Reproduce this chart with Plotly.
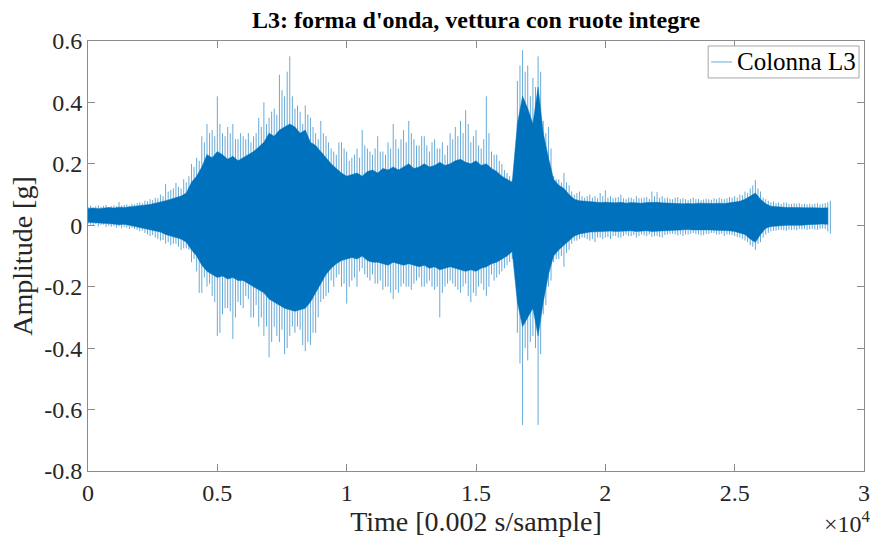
import plotly.graph_objects as go

# ---- data (sample index, amplitude in g) ----
# outer spikes of the waveform, one every 100 samples (max / min seen there)
spike_pos = list(range(0, 28701, 100))
spike_hi = [
    .060, .064, .058, .062, .065, .060, .063, .066, .059, .062,
    .065, .062, .076, .064, .066, .068, .064, .070, .068, .072,
    .075, .072, .080, .078, .085, .082, .090, .088, .100, .095,
    .135, .110, .115, .120, .138, .125, .120, .150, .140, .160,
    .200, .190, .220, .210, .290, .270, .330, .300, .310, .290,
    .420, .330, .300, .290, .320, .300, .330, .280, .280, .300,
    .290, .280, .300, .270, .290, .300, .350, .320, .400, .330,
    .350, .370, .380, .360, .490, .440, .420, .500, .550, .420,
    .380, .390, .370, .330, .390, .360, .350, .320, .300, .280,
    .340, .300, .290, .270, .250, .240, .230, .270, .270, .250,
    .240, .210, .220, .230, .250, .220, .310, .260, .250, .240,
    .230, .250, .290, .240, .240, .230, .270, .250, .330, .280,
    .250, .280, .310, .270, .340, .300, .280, .260, .260, .290,
    .290, .260, .240, .270, .280, .250, .250, .270, .230, .260,
    .300, .280, .320, .290, .340, .300, .375, .330, .270, .290,
    .310, .260, .250, .280, .420, .300, .240, .230, .230, .210,
    .200, .180, .170, .160, .150, .180, .470, .520, .570, .500,
    .520, .420, .480, .450, .550, .500, .340, .300, .320, .250,
    .160, .150, .150, .140, .170, .140, .130, .110, .100, .105,
    .110, .095, .090, .095, .100, .090, .095, .088, .105, .095,
    .114, .090, .095, .088, .090, .092, .100, .088, .085, .090,
    .090, .085, .095, .088, .088, .090, .092, .086, .110, .095,
    .108, .090, .095, .088, .090, .086, .085, .090, .092, .085,
    .088, .085, .082, .086, .090, .085, .086, .082, .084, .086,
    .085, .083, .088, .085, .090, .086, .085, .088, .092, .090,
    .095, .090, .100, .098, .110, .105, .120, .130, .147, .120,
    .110, .090, .085, .080, .075, .078, .072, .075, .070, .074,
    .074, .070, .070, .072, .070, .072, .068, .070, .068, .070,
    .068, .070, .072, .068, .070, .072, .075, .080,
]
spike_lo = [
    .004, .002, .000, .003, -.004, .001, .002, -.006, -.002, -.005,
    -.003, -.008, -.004, -.010, -.006, -.008, -.012, -.009, -.012, -.015,
    -.020, -.018, -.025, -.030, -.035, -.032, -.040, -.045, -.050, -.048,
    -.060, -.055, -.065, -.060, -.060, -.070, -.080, -.075, -.075, -.080,
    -.120, -.110, -.150, -.220, -.220, -.170, -.200, -.190, -.230, -.250,
    -.360, -.350, -.290, -.270, -.270, -.280, -.370, -.300, -.250, -.260,
    -.270, -.230, -.240, -.300, -.300, -.260, -.330, -.300, -.360, -.330,
    -.430, -.380, -.330, -.360, -.380, -.340, -.420, -.400, -.360, -.330,
    -.350, -.330, -.340, -.390, -.410, -.380, -.390, -.350, -.350, -.300,
    -.250, -.240, -.230, -.220, -.180, -.200, -.170, -.160, -.200, -.190,
    -.255, -.200, -.180, -.170, -.200, -.150, -.140, -.160, -.170, -.180,
    -.160, -.190, -.190, -.180, -.210, -.200, -.200, -.220, -.240, -.210,
    -.220, -.200, -.190, -.200, -.200, -.210, -.190, -.180, -.170, -.200,
    -.200, -.190, -.180, -.200, -.210, -.200, -.300, -.220, -.200, -.190,
    -.180, -.190, -.200, -.210, -.220, -.200, -.190, -.230, -.250, -.220,
    -.230, -.200, -.190, -.210, -.230, -.200, -.160, -.180, -.170, -.160,
    -.150, -.140, -.130, -.120, -.110, -.130, -.350, -.450, -.650, -.400,
    -.440, -.380, -.360, -.400, -.650, -.420, -.290, -.260, -.200, -.180,
    -.120, -.110, -.110, -.100, -.135, -.090, -.080, -.060, -.050, -.050,
    -.045, -.040, -.040, -.045, -.050, -.045, -.055, -.040, -.040, -.045,
    -.040, -.038, -.045, -.035, -.035, -.040, -.040, -.035, -.030, -.035,
    -.035, -.032, -.040, -.035, -.030, -.033, -.035, -.030, -.038, -.035,
    -.035, -.038, -.040, -.032, -.030, -.028, -.028, -.030, -.033, -.030,
    -.035, -.030, -.030, -.028, -.025, -.028, -.030, -.033, -.032, -.028,
    -.028, -.025, -.025, -.030, -.030, -.028, -.035, -.030, -.030, -.032,
    -.035, -.038, -.040, -.045, -.050, -.055, -.065, -.070, -.080, -.060,
    -.055, -.040, -.030, -.025, -.020, -.018, -.018, -.015, -.015, -.016,
    -.018, -.014, -.015, -.014, -.016, -.012, -.014, -.012, -.015, -.013,
    -.012, -.014, -.015, -.012, -.010, -.012, -.020, -.027,
]

# dense (solid) core of the waveform, one value every 200 samples
core_pos = list(range(0, 28601, 200))
core_hi = [
    .055, .056, .054, .057, .058, .056, .059, .058, .060, .061,
    .064, .066, .068, .072, .075, .080, .085, .090, .095, .105,
    .140, .160, .190, .230, .220, .240, .230, .215, .225, .210,
    .220, .230, .240, .255, .270, .300, .290, .310, .320, .330,
    .320, .300, .310, .270, .260, .240, .220, .200, .185, .170,
    .160, .165, .170, .160, .175, .180, .170, .185, .180, .190,
    .180, .190, .200, .185, .190, .200, .190, .195, .205, .195,
    .200, .210, .215, .205, .200, .210, .195, .200, .185, .175,
    .160, .150, .140, .330, .420, .380, .330, .450, .300, .220,
    .150, .130, .120, .100, .085, .080, .078, .076, .075, .074,
    .075, .074, .073, .075, .072, .074, .073, .072, .074, .075,
    .075, .073, .072, .071, .072, .070, .071, .070, .072, .071,
    .070, .071, .072, .071, .073, .075, .078, .085, .095, .105,
    .085, .070, .062, .060, .059, .058, .058, .057, .058, .057,
    .057, .056, .056, .057,
]
core_lo = [
    .010, .008, .007, .006, .005, .004, .002, .003, .000, -.002,
    -.006, -.010, -.014, -.018, -.022, -.030, -.035, -.040, -.045, -.055,
    -.080, -.100, -.130, -.150, -.160, -.170, -.165, -.175, -.170, -.180,
    -.180, -.190, -.200, -.210, -.220, -.240, -.250, -.260, -.270, -.275,
    -.280, -.275, -.270, -.250, -.220, -.190, -.160, -.140, -.125, -.115,
    -.110, -.105, -.110, -.100, -.115, -.120, -.120, -.125, -.130, -.120,
    -.125, -.130, -.125, -.130, -.135, -.130, -.140, -.135, -.145, -.140,
    -.135, -.140, -.145, -.150, -.145, -.150, -.140, -.135, -.125, -.120,
    -.110, -.100, -.085, -.250, -.330, -.300, -.270, -.360, -.250, -.160,
    -.100, -.080, -.065, -.050, -.035, -.028, -.025, -.022, -.020, -.020,
    -.020, -.019, -.020, -.018, -.019, -.018, -.020, -.019, -.018, -.020,
    -.020, -.018, -.016, -.015, -.016, -.015, -.014, -.015, -.016, -.015,
    -.015, -.016, -.015, -.017, -.018, -.020, -.025, -.030, -.045, -.055,
    -.030, -.010, -.004, -.002, -.002, .000, .000, .001, .000, .002,
    .003, .004, .004, .003,
]

x_tickvals = [0, 5000, 10000, 15000, 20000, 25000, 30000]
x_ticktext = ["0", "0.5", "1", "1.5", "2", "2.5", "3"]
y_tickvals = [0.6, 0.4, 0.2, 0, -0.2, -0.4, -0.6, -0.8]
y_ticktext = ["0.6", "0.4", "0.2", "0", "-0.2", "-0.4", "-0.6", "-0.8"]
legend_label = "Colonna L3"

BLUE = "#0072BD"
FONT = "Liberation Serif, Times New Roman, serif"

fig = go.Figure()

fig.add_trace(go.Scatter(
    x=core_pos + core_pos[::-1],
    y=core_hi + core_lo[::-1],
    fill="toself", fillcolor=BLUE, mode="lines",
    line=dict(width=0.5, color=BLUE),
    showlegend=False, hoverinfo="skip",
))

sx, sy = [], []
for p, h, l in zip(spike_pos, spike_hi, spike_lo):
    sx += [p, p, None]
    sy += [h, l, None]
fig.add_trace(go.Scatter(
    x=sx, y=sy, mode="lines", name=legend_label, showlegend=False,
    line=dict(width=1, color="rgba(0,114,189,0.6)"),
))

axis_common = dict(
    showgrid=False, zeroline=False, ticks="inside", ticklen=7,
    tickcolor="#8c8c8c", linecolor="#8c8c8c", linewidth=1, mirror="ticks",
    tickfont=dict(family=FONT, size=24, color="#262626"),
    showline=True,
)

# legend box drawn MATLAB-style (paper coordinates)
shapes = [
    dict(type="rect", xref="paper", yref="paper", x0=0.7992, x1=0.9936,
         y0=0.914, y1=0.9884, line=dict(color="#a6a6a6", width=1),
         fillcolor="white", layer="above"),
    dict(type="line", xref="paper", yref="paper", x0=0.8031, x1=0.8299,
         y0=0.9512, y1=0.9512, line=dict(color="rgba(0,114,189,0.6)", width=1),
         layer="above"),
]

fig.update_layout(
    width=878, height=543,
    margin=dict(l=88, r=8, t=41, b=72),
    plot_bgcolor="white", paper_bgcolor="white",
    showlegend=False,
    title=dict(text="<b>L3: forma d'onda, vettura con ruote integre</b>",
               xref="paper", x=0.5, xanchor="center",
               y=0.963, yanchor="middle",
               font=dict(family=FONT, size=24, color="#000000")),
    xaxis=dict(range=[0, 30000], tickvals=x_tickvals, ticktext=x_ticktext,
               title=dict(text="Time [0.002 s/sample]", standoff=4,
                          font=dict(family=FONT, size=28, color="#262626")),
               **axis_common),
    yaxis=dict(range=[-0.8, 0.6], tickvals=y_tickvals, ticktext=y_ticktext,
               title=dict(text="Amplitude [g]", standoff=3,
                          font=dict(family=FONT, size=28, color="#262626")),
               **axis_common),
    shapes=shapes,
    annotations=[
        dict(text=legend_label, xref="paper", yref="paper",
             x=0.8338, y=0.9512, xanchor="left", yanchor="middle",
             showarrow=False,
             font=dict(family=FONT, size=25, color="#000000")),
        dict(text="×10<sup>4</sup>", xref="paper", yref="paper",
             x=1.011, y=-0.158, xanchor="right", yanchor="bottom",
             showarrow=False,
             font=dict(family=FONT, size=24, color="#262626")),
    ],
)

fig.write_html("out.html")
